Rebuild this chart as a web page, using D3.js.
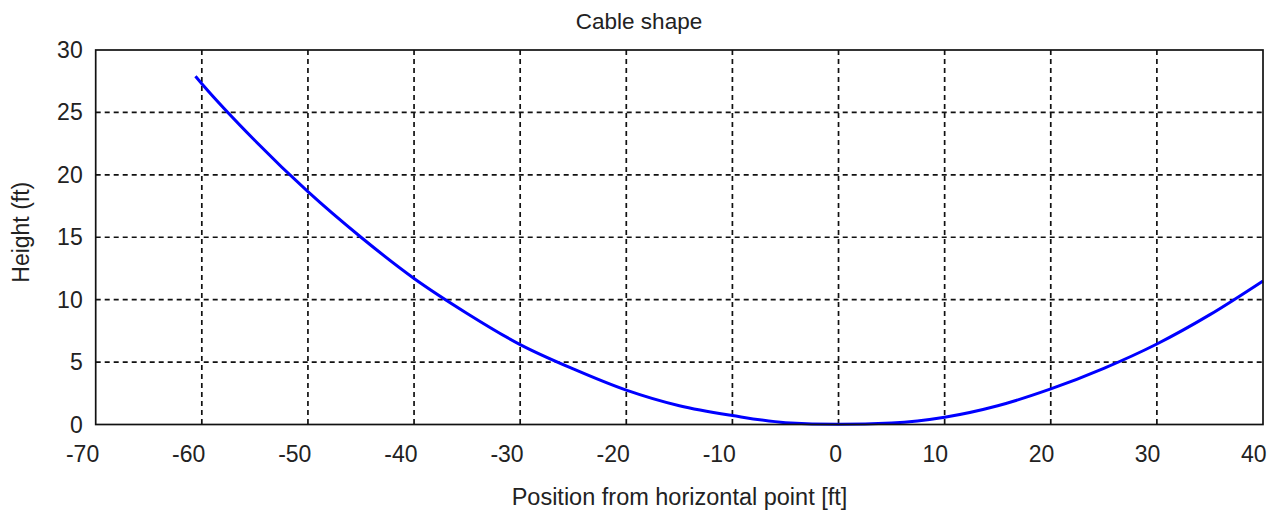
<!DOCTYPE html>
<html>
<head>
<meta charset="utf-8">
<script src="https://cdn.jsdelivr.net/npm/d3@7"></script>
<style>
  body { margin: 0; background: #fff; }
  text { font-family: Arial, "Liberation Sans", sans-serif; fill: #222; }
</style>
</head>
<body>
<div id="chart"></div>
<script>
/** Chart data */
const positions = [-60.6, -60, -55, -50, -45, -40, -35, -30, -25, -20, -15, -10, -5, 0, 5, 10, 15, 20, 25, 30, 35, 40];
const heights = [27.9, 27.3, 22.75, 18.65, 15.0, 11.7, 8.9, 6.4, 4.45, 2.75, 1.5, 0.72, 0.15, 0.02, 0.12, 0.58, 1.5, 2.85, 4.5, 6.45, 8.8, 11.5];
const xTicks = [-70, -60, -50, -40, -30, -20, -10, 0, 10, 20, 30, 40];
const yTicks = [0, 5, 10, 15, 20, 25, 30];

const title = "Cable shape";
const xLabel = "Position from horizontal point [ft]";
const yLabel = "Height (ft)";

/** Graph configs */
const width = 1276;
const height = 510;
const margin = { top: 50, right: 13, bottom: 85.5, left: 95.7 };

const x = d3.scaleLinear().domain([-70, 40]).range([margin.left, width - margin.right]);
const y = d3.scaleLinear().domain([0, 30]).range([height - margin.bottom, margin.top]);

const svg = d3.select("#chart")
  .append("svg")
  .attr("width", width)
  .attr("height", height);

/** Grid lines */
svg.append("g")
  .selectAll("line")
  .data(xTicks.slice(1, -1))
  .join("line")
  .attr("x1", (d) => x(d)).attr("x2", (d) => x(d))
  .attr("y1", y(30)).attr("y2", y(0))
  .attr("stroke", "#111")
  .attr("stroke-width", 1.7)
  .attr("stroke-dasharray", "5,4");

svg.append("g")
  .selectAll("line")
  .data(yTicks.slice(1, -1))
  .join("line")
  .attr("x1", x(-70)).attr("x2", x(40))
  .attr("y1", (d) => y(d)).attr("y2", (d) => y(d))
  .attr("stroke", "#111")
  .attr("stroke-width", 1.7)
  .attr("stroke-dasharray", "5,4");

/** Curve */
const line = d3.line()
  .x((d) => x(d[0]))
  .y((d) => y(d[1]))
  .curve(d3.curveMonotoneX);

svg.append("path")
  .datum(positions.map((p, i) => [p, heights[i]]))
  .attr("d", line)
  .attr("fill", "none")
  .attr("stroke", "#0000ff")
  .attr("stroke-width", 3);

/** Frame */
svg.append("rect")
  .attr("x", x(-70)).attr("y", y(30))
  .attr("width", x(40) - x(-70))
  .attr("height", y(0) - y(30))
  .attr("fill", "none")
  .attr("stroke", "#111")
  .attr("stroke-width", 1.7);

/** Tick labels */
svg.append("g")
  .selectAll("text")
  .data(xTicks)
  .join("text")
  .attr("x", (d) => x(d) + 3.5)
  .attr("y", y(0) + 37)
  .attr("text-anchor", "end")
  .style("font-size", "23px")
  .text((d) => d);

svg.append("g")
  .selectAll("text")
  .data(yTicks)
  .join("text")
  .attr("x", x(-70) - 13)
  .attr("y", (d) => y(d) + 8)
  .attr("text-anchor", "end")
  .style("font-size", "23px")
  .text((d) => d);

/** Titles */
svg.append("text")
  .attr("x", 639)
  .attr("y", 29)
  .attr("text-anchor", "middle")
  .style("font-size", "22.5px")
  .text(title);

svg.append("text")
  .attr("x", 679.5)
  .attr("y", 505)
  .attr("text-anchor", "middle")
  .style("font-size", "23.5px")
  .text(xLabel);

svg.append("text")
  .attr("transform", `translate(29, ${y(15) - 5}) rotate(-90)`)
  .attr("text-anchor", "middle")
  .style("font-size", "23px")
  .text(yLabel);
</script>
</body>
</html>
